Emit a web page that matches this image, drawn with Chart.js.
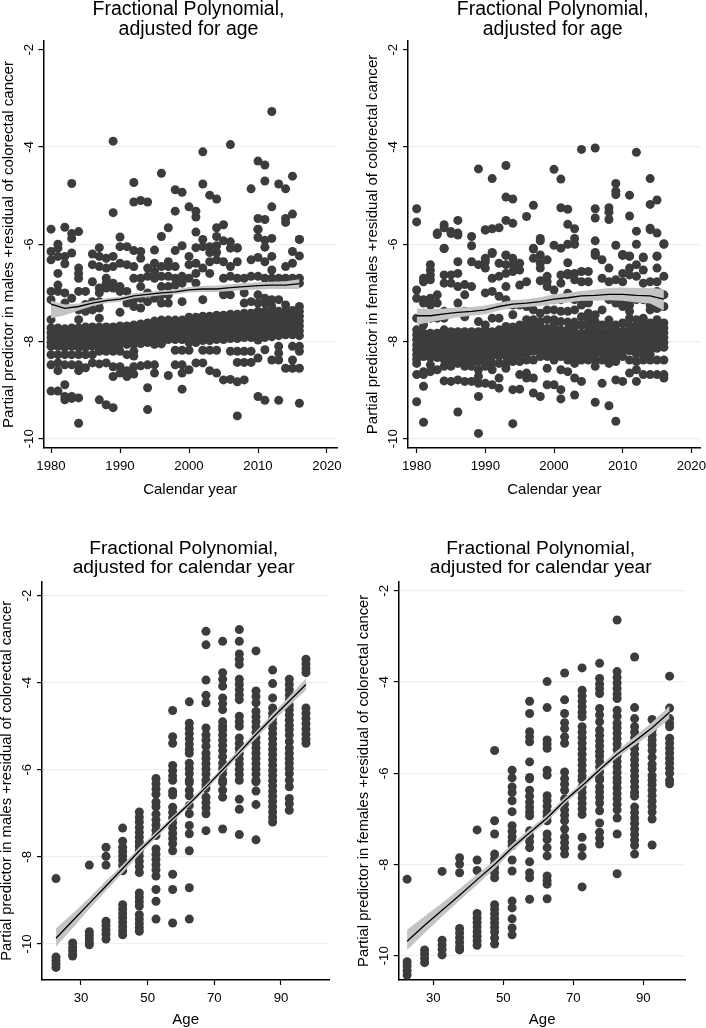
<!DOCTYPE html>
<html>
<head>
<meta charset="utf-8">
<script src="https://cdn.jsdelivr.net/npm/chart.js@4/dist/chart.umd.min.js"></script>
<style>
html, body { margin: 0; padding: 0; background: #fff; overflow: hidden; width: 706px; height: 1028px; }
canvas { position: absolute; }
</style>
</head>
<body>
<canvas id="males-year"></canvas>
<canvas id="females-year"></canvas>
<canvas id="males-age"></canvas>
<canvas id="females-age"></canvas>
<script>
// values, one list per calendar year / age group
var years = [1980,1981,1982,1983,1984,1985,1986,1987,1988,1989,1990,1991,1992,1993,1994,1995,1996,1997,1998,1999,2000,2001,2002,2003,2004,2005,2006,2007,2008,2009,2010,2011,2012,2013,2014,2015,2016];
var ages = [22.5,27.5,32.5,37.5,42.5,47.5,52.5,57.5,62.5,67.5,72.5,77.5,82.5,87.5,92.5,97.5];
var fitYears = [1980,1982,1984,1986,1988,1990,1992,1994,1996,1998,2000,2002,2004,2006,2008,2010,2012,2014,2016];
var yearTicks = [1980,1990,2000,2010,2020];
var ageTicks = [30,50,70,90];
var valueTicks = [-2,-4,-6,-8,-10];

var malesByYear = [
  [-5.69,-6.15,-6.32,-6.97,-7.14,-7.55,-7.72,-7.82,-7.92,-8.02,-8.1,-8.27,-8.48,-9.02],
  [-6.0,-6.08,-6.25,-6.6,-6.84,-6.97,-7.72,-7.82,-7.92,-8.02,-8.1,-8.27,-8.44,-8.6,-9.02],
  [-5.65,-6.25,-6.4,-7.0,-7.21,-7.74,-7.84,-7.94,-8.04,-8.12,-8.27,-8.48,-8.89,-9.13,-9.2],
  [-4.75,-5.78,-5.88,-6.18,-7.11,-7.72,-7.82,-7.92,-8.02,-8.1,-8.27,-8.48,-9.13,-9.17],
  [-5.74,-6.49,-6.6,-6.7,-6.97,-7.35,-7.55,-7.72,-7.82,-7.92,-8.02,-8.12,-8.27,-8.48,-8.6,-9.16,-9.68],
  [-6.97,-7.24,-7.38,-7.7,-7.8,-7.9,-8.0,-8.12,-8.27,-8.54],
  [-6.2,-6.42,-6.77,-7.18,-7.35,-7.7,-7.8,-7.9,-8.0,-8.1,-8.27,-8.44],
  [-6.07,-6.25,-6.46,-6.9,-7.0,-7.18,-7.31,-7.52,-7.7,-7.8,-7.9,-8.0,-8.1,-8.2,-8.46,-9.2],
  [-6.29,-6.49,-6.7,-6.8,-6.9,-7.7,-7.8,-7.9,-8.0,-8.1,-8.2,-8.44,-9.3],
  [-3.88,-5.35,-6.25,-6.46,-6.8,-6.9,-7.7,-7.8,-7.9,-8.0,-8.1,-8.2,-8.52,-8.72,-9.36],
  [-5.85,-6.05,-6.39,-6.87,-6.97,-7.4,-7.68,-7.78,-7.88,-7.98,-8.06,-8.2,-8.52,-8.65],
  [-6.05,-6.42,-6.97,-7.21,-7.68,-7.78,-7.88,-7.98,-8.06,-8.27,-8.6,-8.72],
  [-4.73,-5.13,-6.13,-6.46,-6.7,-7.14,-7.28,-7.66,-7.76,-7.86,-7.96,-8.06,-8.2,-8.3,-8.52,-8.67],
  [-5.1,-6.15,-6.29,-6.7,-6.87,-7.11,-7.31,-7.64,-7.74,-7.84,-7.94,-8.04,-8.5],
  [-5.13,-6.49,-6.66,-7.0,-7.18,-7.62,-7.72,-7.82,-7.92,-8.02,-8.48,-8.95,-9.4],
  [-6.12,-6.39,-6.56,-6.7,-7.11,-7.58,-7.68,-7.78,-7.88,-7.98,-8.06,-8.48,-8.65],
  [-4.54,-5.84,-6.46,-6.66,-6.87,-7.04,-7.21,-7.56,-7.66,-7.76,-7.86,-7.96,-8.05],
  [-5.66,-6.36,-6.46,-6.66,-6.87,-7.04,-7.21,-7.56,-7.66,-7.76,-7.86,-7.96,-8.7],
  [-4.88,-5.32,-6.13,-6.46,-6.7,-6.84,-7.56,-7.66,-7.76,-7.86,-7.96,-8.18,-8.48],
  [-4.93,-6.03,-6.66,-6.8,-7.18,-7.56,-7.66,-7.76,-7.86,-7.96,-8.18,-8.48,-8.65,-8.98],
  [-5.23,-6.25,-6.42,-6.7,-7.5,-7.6,-7.7,-7.8,-7.9,-8.02,-8.18,-8.58],
  [-5.32,-5.44,-5.75,-6.07,-6.39,-6.6,-6.8,-7.5,-7.6,-7.7,-7.8,-7.9,-8.02,-8.44],
  [-4.1,-4.76,-5.9,-6.05,-6.49,-7.14,-7.48,-7.58,-7.68,-7.78,-7.88,-7.98,-8.18,-8.44],
  [-4.99,-6.05,-6.17,-6.36,-6.6,-7.48,-7.58,-7.68,-7.78,-7.88,-7.98,-8.18,-8.6],
  [-5.07,-5.66,-5.84,-6.03,-6.17,-6.32,-7.46,-7.56,-7.66,-7.76,-7.86,-7.96,-8.18,-8.65],
  [-5.6,-5.93,-6.36,-6.7,-6.97,-7.04,-7.46,-7.56,-7.66,-7.76,-7.86,-7.96,-8.79],
  [-3.95,-5.95,-6.08,-6.46,-6.66,-7.04,-7.44,-7.54,-7.64,-7.74,-7.84,-7.94,-8.2,-8.78],
  [-6.07,-6.08,-6.36,-6.7,-7.44,-7.54,-7.64,-7.74,-7.84,-7.94,-8.2,-8.43,-8.83,-9.53],
  [-6.7,-6.9,-7.0,-7.21,-7.42,-7.52,-7.62,-7.72,-7.82,-7.92,-8.2,-8.43,-8.79],
  [-4.86,-6.32,-6.66,-7.18,-7.42,-7.52,-7.62,-7.72,-7.82,-7.92,-8.2,-8.43],
  [-4.29,-5.47,-5.7,-5.69,-5.86,-6.27,-6.66,-7.04,-7.21,-7.38,-7.48,-7.58,-7.68,-7.78,-7.88,-7.97,-8.34,-9.13],
  [-4.37,-4.7,-5.49,-5.92,-6.06,-6.36,-6.7,-7.11,-7.21,-7.38,-7.48,-7.58,-7.68,-7.78,-7.92,-8.17,-9.21],
  [-3.27,-5.23,-5.88,-6.25,-6.53,-6.7,-7.14,-7.28,-7.4,-7.5,-7.6,-7.7,-7.8,-7.9,-8.38],
  [-4.76,-6.7,-7.14,-7.38,-7.48,-7.58,-7.68,-7.78,-7.88,-8.1,-8.24,-8.38,-9.21],
  [-4.86,-5.47,-5.55,-6.46,-6.7,-7.25,-7.38,-7.48,-7.58,-7.68,-7.78,-7.86,-8.55],
  [-4.6,-5.38,-6.15,-6.39,-6.7,-7.36,-7.46,-7.56,-7.66,-7.76,-7.86,-8.1,-8.38,-8.55],
  [-5.9,-5.9,-6.24,-6.7,-6.8,-7.28,-7.38,-7.48,-7.58,-7.68,-7.78,-7.88,-8.1,-8.2,-8.55,-9.27]
];

var femalesByYear = [
  [-5.27,-5.54,-6.94,-7.11,-7.52,-7.76,-7.86,-7.96,-8.07,-8.17,-8.27,-8.36,-8.45,-8.68,-9.24],
  [-6.7,-6.77,-7.14,-7.21,-7.42,-7.66,-7.83,-7.93,-8.03,-8.13,-8.23,-8.31,-8.62,-8.68,-8.92,-9.66],
  [-6.42,-6.53,-6.63,-6.73,-7.11,-7.25,-7.52,-7.83,-7.93,-8.03,-8.13,-8.23,-8.33,-8.48,-8.62],
  [-5.77,-5.8,-7.04,-7.21,-7.52,-7.83,-7.93,-8.03,-8.13,-8.23,-8.33,-8.58],
  [-5.6,-5.66,-6.08,-6.09,-6.63,-6.8,-7.38,-7.52,-7.76,-7.86,-7.96,-8.07,-8.17,-8.27,-8.37,-8.51,-8.81],
  [-5.74,-5.78,-6.63,-6.8,-7.8,-7.9,-8.0,-8.1,-8.2,-8.3,-8.4,-8.51,-8.82],
  [-5.51,-5.77,-5.81,-6.36,-6.6,-6.87,-7.21,-7.8,-7.93,-8.03,-8.13,-8.23,-8.33,-8.45,-8.79,-9.45],
  [-6.83,-7.04,-7.38,-7.49,-7.8,-7.9,-8.0,-8.1,-8.2,-8.3,-8.4,-8.51,-8.82],
  [-5.84,-6.03,-6.36,-6.87,-7.8,-7.93,-8.03,-8.13,-8.23,-8.33,-8.43,-8.51,-8.82],
  [-4.45,-6.42,-7.59,-7.8,-7.9,-8.0,-8.1,-8.2,-8.3,-8.41,-8.58,-8.72,-8.86,-9.13,-9.89],
  [-5.71,-5.7,-6.29,-6.36,-6.49,-7.0,-7.66,-7.76,-7.88,-8.0,-8.1,-8.2,-8.3,-8.38,-8.51,-8.86],
  [-4.65,-5.68,-6.19,-6.17,-6.7,-6.97,-7.52,-7.8,-7.9,-8.0,-8.1,-8.2,-8.3,-8.45,-8.58,-8.89],
  [-5.66,-6.39,-6.66,-7.07,-7.52,-7.76,-7.9,-8.0,-8.1,-8.2,-8.3,-8.45,-8.75,-8.96],
  [-4.38,-5.03,-5.51,-6.23,-6.22,-6.42,-6.6,-6.87,-7.14,-7.69,-7.8,-7.9,-8.0,-8.1,-8.2,-8.3,-8.45,-8.55],
  [-5.07,-5.57,-6.29,-6.42,-6.56,-7.25,-7.45,-7.7,-7.8,-7.9,-8.0,-8.1,-8.2,-8.3,-8.41,-8.99,-9.69],
  [-6.39,-6.53,-6.84,-7.25,-7.66,-7.76,-7.86,-7.96,-8.06,-8.16,-8.26,-8.41,-8.68,-8.98],
  [-5.43,-6.77,-7.28,-7.55,-7.66,-7.76,-7.86,-7.96,-8.06,-8.16,-8.26,-8.38,-8.65,-8.75],
  [-5.2,-6.1,-6.08,-6.29,-7.35,-7.55,-7.7,-7.8,-7.9,-8.0,-8.1,-8.2,-8.38,-8.75,-9.06],
  [-5.93,-5.88,-6.22,-6.39,-6.49,-6.75,-7.42,-7.59,-7.69,-7.79,-7.89,-7.99,-8.09,-8.19,-8.31,-9.13],
  [-6.32,-6.66,-6.77,-6.87,-7.35,-7.55,-7.73,-7.85,-7.95,-8.05,-8.15,-8.25,-8.31,-8.55,-8.89],
  [-4.46,-6.02,-6.94,-7.14,-7.35,-7.55,-7.66,-7.76,-7.86,-7.96,-8.06,-8.16,-8.26,-8.38,-8.89],
  [-4.66,-5.25,-6.08,-6.63,-6.8,-7.14,-7.38,-7.59,-7.76,-7.86,-7.96,-8.06,-8.16,-8.31,-8.58,-8.99,-9.18],
  [-5.28,-5.59,-6.0,-6.38,-6.63,-6.6,-7.01,-7.38,-7.6,-7.76,-7.86,-7.96,-8.06,-8.16,-8.26,-8.38,-8.62],
  [-5.68,-5.88,-6.0,-6.6,-6.73,-7.14,-7.35,-7.6,-7.7,-7.83,-7.93,-8.03,-8.13,-8.23,-8.33,-8.45,-8.75,-9.1],
  [-4.05,-6.56,-6.77,-7.08,-7.25,-7.49,-7.66,-7.83,-7.93,-8.03,-8.13,-8.23,-8.38,-8.82],
  [-6.56,-6.77,-7.18,-7.21,-7.42,-7.55,-7.68,-7.78,-7.88,-7.98,-8.08,-8.18,-8.28,-8.38],
  [-4.02,-5.27,-5.46,-5.93,-6.2,-6.17,-6.23,-7.45,-7.59,-7.66,-7.76,-7.86,-7.96,-8.06,-8.16,-8.26,-8.38,-8.51,-9.25],
  [-6.32,-6.7,-7.04,-7.35,-7.66,-7.8,-7.93,-8.03,-8.13,-8.23,-8.38,-8.86],
  [-5.25,-5.34,-5.49,-6.49,-6.77,-7.04,-7.14,-7.56,-7.66,-7.79,-7.89,-7.99,-8.09,-8.19,-8.31,-8.45,-9.32],
  [-4.75,-4.91,-4.98,-6.02,-6.73,-7.01,-7.14,-7.21,-7.66,-7.76,-7.86,-7.96,-8.06,-8.16,-8.26,-8.41,-8.79,-9.64],
  [-6.23,-6.21,-6.22,-6.6,-6.77,-7.18,-7.28,-7.62,-7.79,-7.89,-7.99,-8.09,-8.19,-8.31,-8.82],
  [-4.99,-5.42,-6.24,-6.25,-6.49,-6.63,-7.25,-7.38,-7.52,-7.68,-7.79,-7.89,-7.99,-8.09,-8.19,-8.38,-8.65],
  [-4.11,-5.73,-6.0,-6.42,-6.66,-7.01,-7.14,-7.55,-7.66,-7.76,-7.86,-7.96,-8.06,-8.16,-8.26,-8.41,-8.58,-8.82],
  [-6.28,-6.26,-6.53,-6.8,-7.14,-7.52,-7.66,-7.76,-7.86,-7.96,-8.06,-8.16,-8.26,-8.38,-8.68],
  [-4.65,-5.18,-5.7,-5.67,-6.77,-7.25,-7.35,-7.62,-7.76,-7.86,-7.96,-8.06,-8.16,-8.26,-8.38,-8.68],
  [-5.09,-5.77,-6.24,-6.25,-6.49,-6.77,-6.97,-7.2,-7.32,-7.55,-7.69,-7.79,-7.89,-7.99,-8.09,-8.14,-8.38,-8.68],
  [-6.0,-5.99,-6.66,-7.04,-7.28,-7.62,-7.72,-7.82,-7.92,-8.02,-8.12,-8.38,-8.68,-8.75]
];

var malesByAge = [
  [-8.5,-10.3,-10.38,-10.46,-10.54],
  [-9.98,-10.08,-10.16,-10.24,-10.28],
  [-8.19,-9.72,-9.8,-9.88,-9.96,-10.02],
  [-7.78,-7.99,-8.19,-9.48,-9.58,-9.68,-9.78,-9.89],
  [-7.34,-7.64,-7.78,-7.88,-7.98,-8.08,-8.2,-8.32,-9.1,-9.2,-9.3,-9.4,-9.5,-9.6,-9.7,-9.79],
  [-6.97,-7.09,-7.2,-7.32,-7.44,-7.55,-7.66,-7.76,-7.86,-7.98,-8.1,-8.22,-8.36,-8.83,-8.93,-9.03,-9.13,-9.33,-9.43,-9.53,-9.63,-9.71],
  [-6.2,-6.32,-6.44,-6.56,-6.74,-6.85,-7.02,-7.15,-7.27,-7.39,-7.51,-7.82,-7.94,-8.06,-8.18,-8.3,-8.44,-8.75,-9.02,-9.43],
  [-4.64,-5.24,-5.39,-5.9,-6.02,-6.14,-6.24,-6.5,-6.58,-6.86,-6.98,-7.1,-7.22,-7.34,-7.46,-7.58,-7.7,-7.86,-8.4,-8.75,-9.52],
  [-4.44,-4.93,-5.05,-5.17,-5.29,-5.41,-5.53,-5.62,-5.85,-5.97,-6.09,-6.24,-6.3,-6.47,-6.6,-6.82,-7.01,-7.28,-7.47,-7.86,-8.71,-9.43],
  [-2.82,-3.13,-3.94,-4.29,-4.46,-5.04,-5.2,-5.32,-5.46,-5.62,-5.74,-5.86,-5.98,-6.1,-6.24,-6.34,-6.43,-6.63,-6.75,-6.88,-7.01,-7.4],
  [-3.05,-3.77,-3.92,-4.08,-4.35,-4.48,-4.62,-4.9,-5.0,-5.08,-5.2,-5.32,-5.44,-5.56,-5.7,-5.85,-5.97,-6.09,-6.24,-6.3,-6.47,-6.63,-7.36],
  [-2.78,-3.05,-3.34,-3.46,-3.58,-3.92,-4.04,-4.16,-4.28,-4.39,-4.77,-4.89,-5.0,-5.27,-5.39,-5.51,-5.63,-5.75,-5.87,-5.99,-6.11,-6.24,-6.68,-6.91,-7.49],
  [-3.27,-4.19,-4.32,-4.46,-4.66,-4.78,-4.9,-5.02,-5.14,-5.26,-5.38,-5.5,-5.62,-5.74,-5.86,-5.98,-6.1,-6.24,-6.28,-6.49,-6.8,-7.61],
  [-3.71,-4.02,-4.35,-4.58,-4.7,-4.81,-4.93,-5.05,-5.17,-5.29,-5.41,-5.53,-5.65,-5.77,-5.89,-6.01,-6.13,-6.25,-6.37,-6.49,-6.61,-6.73,-6.85,-6.97,-7.09,-7.2],
  [-3.92,-4.04,-4.16,-4.28,-4.4,-4.52,-4.62,-4.74,-4.86,-4.98,-5.08,-5.2,-5.35,-5.5,-5.62,-5.74,-5.85,-5.97,-6.09,-6.24,-6.39,-6.66,-6.78,-6.93],
  [-3.46,-3.57,-3.68,-3.77,-4.58,-4.7,-4.82,-4.94,-5.06,-5.18,-5.3,-5.39]
];

var femalesByAge = [
  [-8.32,-10.13,-10.22,-10.32,-10.42],
  [-9.87,-9.96,-10.06,-10.15],
  [-8.15,-9.66,-9.76,-9.86,-9.98],
  [-7.85,-7.99,-8.18,-9.4,-9.5,-9.6,-9.7,-9.8,-9.87],
  [-7.24,-7.9,-8.13,-9.07,-9.17,-9.27,-9.37,-9.47,-9.57,-9.67,-9.77],
  [-5.5,-7.04,-7.33,-7.77,-7.87,-7.97,-8.07,-8.18,-8.29,-8.88,-8.98,-9.08,-9.18,-9.28,-9.38,-9.48,-9.61,-9.74],
  [-5.93,-6.1,-6.3,-6.42,-6.6,-6.84,-7.15,-7.27,-7.39,-7.5,-7.59,-7.9,-8.14,-8.8,-8.95,-9.19,-9.39,-9.54],
  [-4.42,-4.69,-5.09,-5.2,-5.31,-5.75,-6.09,-6.12,-6.37,-6.5,-6.63,-6.74,-6.84,-6.93,-7.26,-7.38,-7.5,-7.63,-7.94,-8.18,-8.29,-8.76],
  [-3.99,-4.56,-5.27,-5.36,-5.45,-5.93,-6.04,-6.49,-6.6,-6.72,-6.84,-6.94,-7.04,-7.33,-7.45,-7.63,-7.81,-8.25,-8.35,-8.43,-8.75],
  [-3.8,-4.39,-4.69,-4.89,-5.02,-5.2,-5.34,-5.97,-6.12,-6.24,-6.37,-6.56,-6.68,-6.8,-6.92,-7.04,-7.22,-7.4,-7.52,-7.64,-7.77],
  [-3.69,-4.18,-4.3,-4.42,-4.54,-4.66,-4.76,-4.98,-5.1,-5.22,-5.34,-5.46,-5.58,-5.7,-5.82,-5.94,-6.06,-6.15,-6.3,-6.42,-6.54,-6.66,-6.78,-6.9,-7.4,-7.63,-7.81,-8.49],
  [-3.59,-3.92,-4.04,-4.14,-4.25,-4.58,-4.72,-4.87,-5.05,-5.17,-5.29,-5.4,-5.52,-5.62,-5.74,-5.86,-5.97,-6.1,-6.15,-6.3,-6.41,-6.53,-6.65,-6.82,-7.09,-7.29,-7.42,-7.55],
  [-2.64,-3.77,-3.9,-4.02,-4.14,-4.26,-4.36,-4.62,-4.75,-4.9,-5.0,-5.12,-5.24,-5.36,-5.48,-5.62,-5.74,-5.86,-5.98,-6.1,-6.2,-6.32,-6.44,-6.56,-6.68,-6.8,-6.98,-7.33,-8.2],
  [-3.45,-4.56,-4.8,-4.98,-5.1,-5.22,-5.34,-5.46,-5.58,-5.7,-5.82,-5.94,-6.06,-6.18,-6.3,-6.42,-6.5,-6.74,-6.86,-6.98,-7.1,-7.22,-7.34,-7.46,-7.58,-7.77],
  [-4.82,-5.05,-5.16,-5.27,-5.38,-5.5,-5.65,-5.8,-5.9,-6.05,-6.15,-6.25,-6.37,-6.49,-6.61,-6.73,-6.85,-7.0,-7.57],
  [-3.87,-4.57,-4.8,-4.9,-4.98,-5.23,-5.34,-5.45,-5.56,-5.67,-5.78,-5.89,-6.0,-6.15,-6.23]
];

var malesYearFit = [-7.23,-7.32,-7.28,-7.21,-7.16,-7.13,-7.06,-7.03,-7.0,-6.98,-6.94,-6.92,-6.92,-6.89,-6.87,-6.85,-6.84,-6.84,-6.81];
var malesYearUpper = [-7.16,-7.24,-7.22,-7.16,-7.11,-7.08,-7.01,-6.98,-6.95,-6.93,-6.88,-6.86,-6.85,-6.82,-6.8,-6.78,-6.77,-6.76,-6.72];
var malesYearLower = [-7.52,-7.46,-7.36,-7.27,-7.21,-7.18,-7.11,-7.08,-7.05,-7.03,-6.99,-6.98,-6.98,-6.96,-6.94,-6.93,-6.92,-6.92,-6.92];
var femalesYearFit = [-7.47,-7.47,-7.43,-7.4,-7.38,-7.35,-7.28,-7.23,-7.21,-7.18,-7.13,-7.1,-7.06,-7.05,-7.03,-7.03,-7.05,-7.06,-7.13];
var femalesYearUpper = [-7.32,-7.34,-7.32,-7.3,-7.29,-7.26,-7.2,-7.15,-7.13,-7.09,-7.03,-7.0,-6.96,-6.93,-6.9,-6.89,-6.9,-6.9,-6.92];
var femalesYearLower = [-7.66,-7.6,-7.55,-7.5,-7.47,-7.44,-7.36,-7.31,-7.29,-7.27,-7.23,-7.2,-7.16,-7.16,-7.15,-7.16,-7.2,-7.22,-7.36];
var malesAgeFit = [-9.87,-9.47,-9.07,-8.67,-8.27,-7.86,-7.5,-7.13,-6.78,-6.4,-6.0,-5.6,-5.19,-4.8,-4.42,-4.04];
var malesAgeUpper = [-9.64,-9.3,-8.94,-8.55,-8.18,-7.78,-7.43,-7.07,-6.72,-6.34,-5.93,-5.52,-5.12,-4.71,-4.32,-3.9];
var malesAgeLower = [-10.06,-9.64,-9.2,-8.78,-8.37,-7.95,-7.57,-7.2,-6.84,-6.46,-6.07,-5.67,-5.28,-4.9,-4.53,-4.17];
var femalesAgeFit = [-9.68,-9.33,-9.0,-8.67,-8.33,-8.0,-7.63,-7.3,-6.98,-6.6,-6.27,-5.92,-5.58,-5.3,-5.0,-4.66];
var femalesAgeUpper = [-9.43,-9.13,-8.84,-8.53,-8.22,-7.91,-7.55,-7.22,-6.91,-6.53,-6.2,-5.85,-5.5,-5.2,-4.88,-4.52];
var femalesAgeLower = [-9.87,-9.5,-9.14,-8.79,-8.44,-8.09,-7.71,-7.37,-7.05,-6.67,-6.34,-5.99,-5.66,-5.39,-5.12,-4.8];

var DOT = '#3c3c3c';
var BAND = '#c4c4c4';
var GRID = '#e8f1f3';
var FONT = '"Liberation Sans", Arial, sans-serif';

function scatterPoints(xs, lists) {
  var out = [];
  lists.forEach(function (list, i) {
    list.forEach(function (v) { out.push({ x: xs[i], y: v }); });
  });
  return out;
}

function linePoints(xs, ys) {
  return xs.map(function (x, i) { return { x: x, y: ys[i] }; });
}

function plainTick(v) { return String(v); }

function makePanel(id, p) {
  var canvas = document.getElementById(id);
  canvas.width = p.width;
  canvas.height = p.height;
  canvas.style.left = p.left + 'px';
  canvas.style.top = p.top + 'px';
  var lineH = p.titleSize;
  new Chart(canvas, {
    type: 'scatter',
    data: {
      datasets: [
        { type: 'line', data: linePoints(p.fitX, p.fit), borderColor: '#000', borderWidth: 1.3, pointRadius: 0, tension: 0, fill: false },
        { type: 'line', data: linePoints(p.fitX, p.upper), borderWidth: 0, borderColor: BAND, pointRadius: 0, tension: 0, backgroundColor: BAND, fill: '+1' },
        { type: 'line', data: linePoints(p.fitX, p.lower), borderWidth: 0, borderColor: BAND, pointRadius: 0, tension: 0, fill: false },
        { data: scatterPoints(p.xs, p.points), backgroundColor: DOT, borderWidth: 0, pointRadius: p.radius, pointHoverRadius: p.radius }
      ]
    },
    options: {
      responsive: false,
      animation: false,
      devicePixelRatio: 1,
      layout: { padding: { right: p.left + p.width - p.plotRight } },
      plugins: {
        legend: { display: false },
        tooltip: { enabled: false },
        title: {
          display: true,
          text: p.title,
          color: '#000',
          font: { family: FONT, size: p.titleSize, weight: 'normal', lineHeight: 1 },
          padding: { top: 0, bottom: p.plotTop - p.top - 2 * lineH }
        }
      },
      scales: {
        x: {
          type: 'linear',
          min: p.xMin,
          max: p.xMax,
          afterBuildTicks: function (s) { s.ticks = p.xTicks.map(function (v) { return { value: v }; }); },
          afterFit: function (s) { s.height = p.top + p.height - p.plotBottom; },
          border: { color: '#000', width: 1.5 },
          grid: { drawOnChartArea: false, tickLength: 5, tickColor: '#000', tickWidth: 1.2 },
          ticks: { color: '#000', font: { family: FONT, size: 13.2 }, padding: 5, maxRotation: 0, autoSkip: false, callback: plainTick },
          title: { display: true, text: p.xTitle, color: '#000', font: { family: FONT, size: 15 }, padding: 0 }
        },
        y: {
          type: 'linear',
          min: p.yMin,
          max: p.yMax,
          afterBuildTicks: function (s) { s.ticks = valueTicks.map(function (v) { return { value: v }; }); },
          afterFit: function (s) { s.width = p.plotLeft - p.left; },
          border: { color: '#000', width: 1.5 },
          grid: {
            color: function (ctx) { return (ctx.tick && ctx.tick.value === -2 && !p.gridTop) ? 'rgba(0,0,0,0)' : GRID; },
            lineWidth: 1.2,
            tickLength: 5,
            tickColor: '#000',
            tickWidth: 1.2
          },
          ticks: { color: '#000', font: { family: FONT, size: 13.2 }, padding: 0, minRotation: 90, maxRotation: 90, crossAlign: 'center', autoSkip: false, callback: plainTick },
          title: { display: true, text: p.yTitle, color: '#000', font: { family: FONT, size: p.yTitleSize }, padding: 0 }
        }
      }
    },
    plugins: [{
      id: 'titleCentre',
      afterLayout: function (chart) {
        // titles in the reference are not centred on the canvas
        chart.titleBlock.left = p.titleX - p.left - 150;
        chart.titleBlock.right = p.titleX - p.left + 150;
      }
    }]
  });
}

makePanel('males-year', {
  left: 0, top: 0, width: 350, height: 499,
  plotLeft: 43.5, plotRight: 337, plotTop: 41, plotBottom: 448,
  xMin: 1978.91, xMax: 2021.45, yMin: -10.19, yMax: -1.82,
  xs: years, points: malesByYear, fitX: fitYears, fit: malesYearFit, upper: malesYearUpper, lower: malesYearLower,
  xTicks: yearTicks, radius: 4.5, gridTop: false, titleSize: 19.5, titleX: 188.5, yTitleSize: 15.1,
  title: ['Fractional Polynomial,', 'adjusted for age'],
  xTitle: 'Calendar year', yTitle: 'Partial predictor in males +residual of colorectal cancer'
});

makePanel('females-year', {
  left: 364, top: 0, width: 350, height: 499,
  plotLeft: 408, plotRight: 700.7, plotTop: 41, plotBottom: 448,
  xMin: 1978.74, xMax: 2021.36, yMin: -10.19, yMax: -1.82,
  xs: years, points: femalesByYear, fitX: fitYears, fit: femalesYearFit, upper: femalesYearUpper, lower: femalesYearLower,
  xTicks: yearTicks, radius: 4.5, gridTop: false, titleSize: 19.5, titleX: 552.7, yTitleSize: 15.1,
  title: ['Fractional Polynomial,', 'adjusted for age'],
  xTitle: 'Calendar year', yTitle: 'Partial predictor in females +residual of colorectal cancer'
});

makePanel('males-age', {
  left: -2, top: 539, width: 345, height: 490,
  plotLeft: 42, plotRight: 329.3, plotTop: 581.7, plotBottom: 980,
  xMin: 18.3, xMax: 104.5, yMin: -10.83, yMax: -1.68,
  xs: ages, points: malesByAge, fitX: ages, fit: malesAgeFit, upper: malesAgeUpper, lower: malesAgeLower,
  xTicks: ageTicks, radius: 4.5, gridTop: true, titleSize: 19.2, titleX: 183.6, yTitleSize: 14.8,
  title: ['Fractional Polynomial,', 'adjusted for calendar year'],
  xTitle: 'Age', yTitle: 'Partial predictor in males +residual of colorectal cancer'
});

makePanel('females-age', {
  left: 355, top: 539, width: 345, height: 490,
  plotLeft: 398.7, plotRight: 685.7, plotTop: 581.7, plotBottom: 980,
  xMin: 20.1, xMax: 102.1, yMin: -10.53, yMax: -1.8,
  xs: ages, points: femalesByAge, fitX: ages, fit: femalesAgeFit, upper: femalesAgeUpper, lower: femalesAgeLower,
  xTicks: ageTicks, radius: 4.5, gridTop: true, titleSize: 19.2, titleX: 540.7, yTitleSize: 14.8,
  title: ['Fractional Polynomial,', 'adjusted for calendar year'],
  xTitle: 'Age', yTitle: 'Partial predictor in females +residual of colorectal cancer'
});
</script>
</body>
</html>
